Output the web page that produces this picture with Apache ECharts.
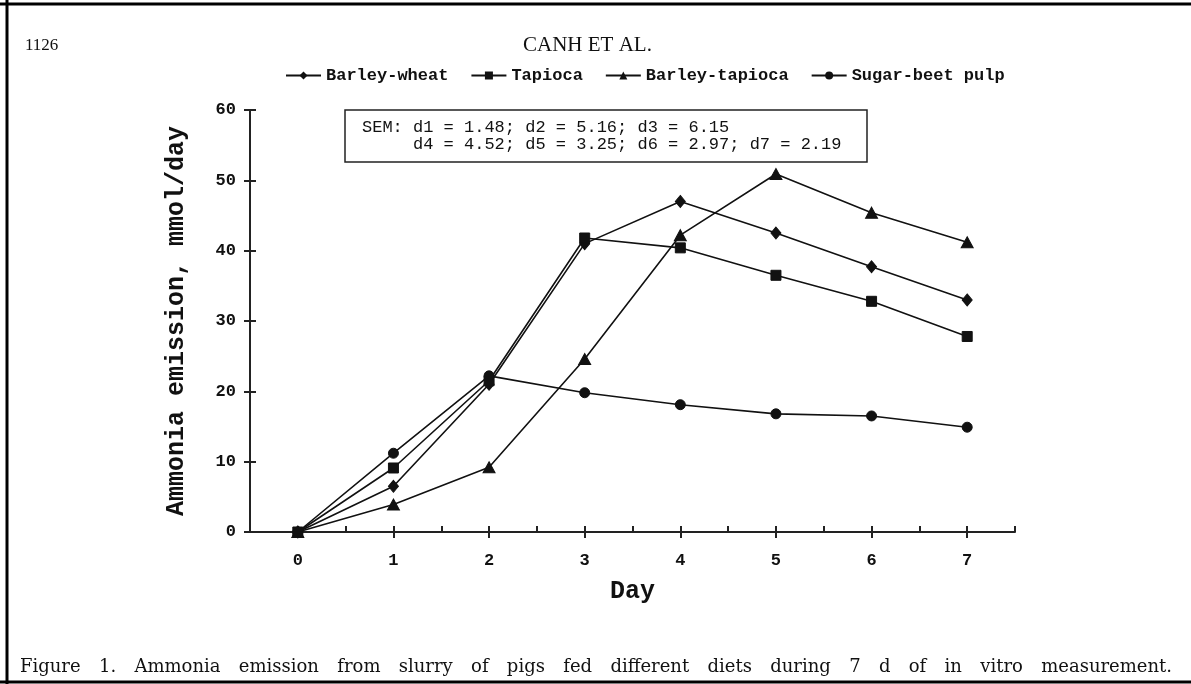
<!DOCTYPE html>
<html><head><meta charset="utf-8">
<script src="https://cdn.jsdelivr.net/npm/echarts@6/dist/echarts.min.js"></script>
<style>html,body{margin:0;padding:0;background:#fff}#c{width:1191px;height:684px}</style>
</head><body><div id="c"></div>
<script>
// ---- data ----
const days = [0, 1, 2, 3, 4, 5, 6, 7];
const barleyWheat   = [0, 6.5, 21.0, 41.0, 47.0, 42.5, 37.7, 33.0];
const tapioca       = [0, 9.1, 21.5, 41.8, 40.4, 36.5, 32.8, 27.8];
const barleyTapioca = [0, 3.9, 9.2, 24.6, 42.2, 50.9, 45.4, 41.2];
const sugarBeetPulp = [0, 11.2, 22.2, 19.8, 18.1, 16.8, 16.5, 14.9];
const seriesNames = ['Barley-wheat', 'Tapioca', 'Barley-tapioca', 'Sugar-beet pulp'];
const seriesSymbols = ['diamond', 'rect', 'triangle', 'circle'];
const xMinorTicks = [0, 0.5, 1, 1.5, 2, 2.5, 3, 3.5, 4, 4.5, 5, 5.5, 6, 6.5, 7, 7.5];
const yTicks = [0, 10, 20, 30, 40, 50, 60];
const semLines = ['SEM: d1 = 1.48; d2 = 5.16; d3 = 6.15', '     d4 = 4.52; d5 = 3.25; d6 = 2.97; d7 = 2.19'];
const pageNumber = '1126';
const runningHead = 'CANH ET AL.';
const caption = 'Figure 1. Ammonia emission from slurry of pigs fed different diets during 7 d of in vitro measurement.';

const seriesValues = [barleyWheat, tapioca, barleyTapioca, sugarBeetPulp];
const mono = '"Liberation Mono", "Courier New", monospace';
const serif = '"Liberation Serif", "Times New Roman", serif';

const chart = echarts.init(document.getElementById('c'), null, {renderer: 'canvas'});

// justify caption words across the width
const capFont = '18px "DejaVu Serif"';
const ctx = document.createElement('canvas').getContext('2d');
ctx.font = capFont;
const words = caption.split(' ');
const widths = words.map(w => ctx.measureText(w).width);
const capLeft = 20, capRight = 1172;
const gap = ((capRight - capLeft) - widths.reduce((a, b) => a + b, 0)) / (words.length - 1);
let cx = capLeft;
const captionEls = words.map((w, i) => {
  const el = {type: 'text', left: cx, top: 658, style: {text: w, font: capFont, fill: '#111'}};
  cx += widths[i] + gap;
  return el;
});

const symbolSizes = [[10, 12], 10, [12, 11], 10];

const option = {
  backgroundColor: '#fff',
  animation: false,
  legend: {
    left: 285, top: 67, padding: 0,
    itemWidth: 35, itemHeight: 10, itemGap: 22,
    textStyle: {fontFamily: mono, fontWeight: 'bold', fontSize: 17, color: '#111'},
    data: seriesNames
  },
  grid: {left: 250, right: 176, top: 110, bottom: 152},
  xAxis: [{
    type: 'value', min: -0.5, max: 7.5, interval: 0.5,
    axisLine: {onZero: false, lineStyle: {color: '#222', width: 2}},
    axisTick: {show: true, inside: true, length: 6, lineStyle: {color: '#222', width: 2}, customValues: xMinorTicks},
    axisLabel: {show: false},
    splitLine: {show: false},
    name: 'Day', nameLocation: 'middle', nameGap: 47,
    nameTextStyle: {fontFamily: mono, fontWeight: 'bold', fontSize: 25, color: '#111'}
  }, {
    type: 'value', min: -0.5, max: 7.5, interval: 0.5, position: 'bottom',
    axisLine: {show: false, onZero: false},
    axisTick: {show: true, inside: false, length: 6, lineStyle: {color: '#222', width: 2}, customValues: days},
    axisLabel: {show: true, margin: 20, customValues: days, fontFamily: mono, fontWeight: 'bold', fontSize: 17, color: '#111'},
    splitLine: {show: false}
  }],
  yAxis: [{
    type: 'value', min: 0, max: 60, interval: 10, position: 'left',
    axisLine: {show: true, onZero: false, lineStyle: {color: '#222', width: 2}},
    axisTick: {show: true, inside: false, length: 6, lineStyle: {color: '#222', width: 2}},
    axisLabel: {margin: 14, fontFamily: mono, fontWeight: 'bold', fontSize: 17, color: '#111', customValues: yTicks},
    splitLine: {show: false},
    name: 'Ammonia emission, mmol/day', nameLocation: 'middle', nameRotate: 90, nameGap: 61,
    nameTextStyle: {fontFamily: mono, fontWeight: 'bold', fontSize: 25, color: '#111'}
  }, {
    type: 'value', min: 0, max: 60, interval: 10, position: 'left',
    axisLine: {show: false, onZero: false},
    axisTick: {show: true, inside: true, length: 6, lineStyle: {color: '#222', width: 2}},
    axisLabel: {show: false},
    splitLine: {show: false}
  }],
  series: seriesNames.map((name, i) => ({
    name, type: 'line', xAxisIndex: 0, yAxisIndex: 0,
    symbol: seriesSymbols[i], symbolSize: symbolSizes[i],
    showAllSymbol: true,
    lineStyle: {color: '#111', width: 1.6},
    itemStyle: {color: '#111', borderColor: '#111'},
    data: days.map((d, j) => [d, seriesValues[i][j]])
  })),
  graphic: [
    {type: 'line', shape: {x1: 7, y1: 0, x2: 7, y2: 684}, style: {stroke: '#000', lineWidth: 3}},
    {type: 'line', shape: {x1: 0, y1: 4, x2: 1191, y2: 4}, style: {stroke: '#000', lineWidth: 3}},
    {type: 'line', shape: {x1: 0, y1: 682, x2: 1191, y2: 682}, style: {stroke: '#000', lineWidth: 3}},
    {type: 'text', left: 25, top: 37, style: {text: pageNumber, font: '17px ' + serif, fill: '#111'}},
    {type: 'text', left: 523, top: 35, style: {text: runningHead, font: '21px ' + serif, fill: '#111'}},
    {type: 'rect', shape: {x: 345, y: 110, width: 522, height: 52}, style: {fill: '#fff', stroke: '#222', lineWidth: 1.5}},
    {type: 'text', left: 362, top: 119, style: {text: semLines.join('\n'), font: '17px ' + mono, lineHeight: 17, fill: '#111'}}
  ].concat(captionEls)
};
chart.setOption(option);
</script>
</body></html>
